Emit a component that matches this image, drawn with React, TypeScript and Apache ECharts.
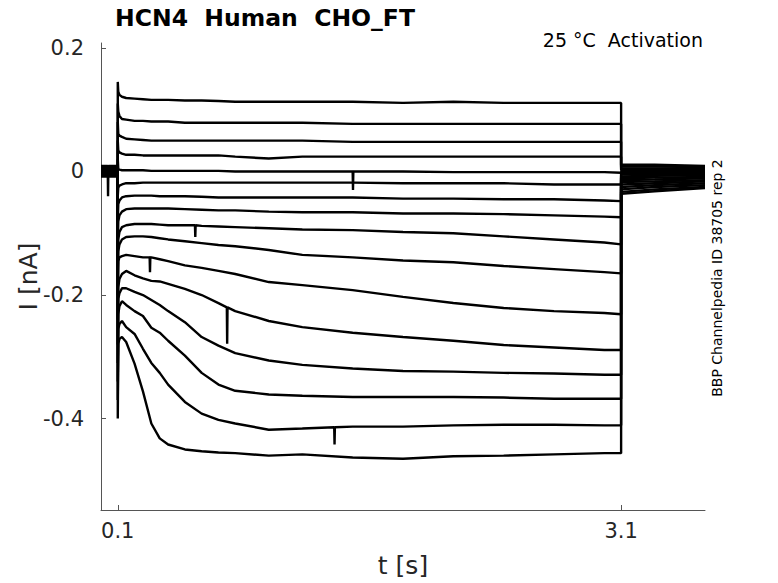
import React, { useEffect, useRef } from "react";
import * as echarts from "echarts";

// time points (s) sampled along each test pulse
const TIME = [0.103, 0.11, 0.125, 0.15, 0.2, 0.25, 0.3, 0.35, 0.4, 0.5, 0.6, 0.7, 0.8, 1.0, 1.2, 1.5, 1.8, 2.1, 2.4, 2.7, 3.0, 3.1];

// current (nA) of each sweep at TIME
const T01 = [0.129, 0.124, 0.121, 0.119, 0.118, 0.117, 0.116, 0.116, 0.116, 0.115, 0.115, 0.114, 0.113, 0.113, 0.113, 0.113, 0.111, 0.113, 0.111, 0.111, 0.111, 0.111];
const T02 = [0.097, 0.090, 0.085, 0.084, 0.082, 0.082, 0.081, 0.081, 0.081, 0.079, 0.079, 0.079, 0.079, 0.079, 0.079, 0.077, 0.077, 0.077, 0.077, 0.077, 0.077, 0.077];
const T03 = [0.061, 0.058, 0.056, 0.053, 0.052, 0.051, 0.050, 0.050, 0.050, 0.050, 0.050, 0.050, 0.050, 0.050, 0.050, 0.048, 0.048, 0.048, 0.048, 0.048, 0.048, 0.048];
const T04 = [0.034, 0.031, 0.029, 0.027, 0.027, 0.026, 0.026, 0.026, 0.026, 0.026, 0.026, 0.026, 0.024, 0.021, 0.024, 0.024, 0.024, 0.024, 0.024, 0.024, 0.024, 0.024];
const T05 = [0.004, 0.003, 0.002, 0.002, 0.002, 0.002, 0.001, 0.001, 0.001, 0.001, 0.001, 0.001, 0.000, 0.000, 0.000, 0.000, 0.000, -0.001, -0.001, -0.001, -0.001, -0.002];
const T06 = [-0.026, -0.023, -0.021, -0.019, -0.019, -0.018, -0.018, -0.018, -0.018, -0.018, -0.018, -0.018, -0.018, -0.018, -0.018, -0.018, -0.019, -0.019, -0.019, -0.021, -0.021, -0.021];
const T07 = [-0.053, -0.047, -0.042, -0.040, -0.039, -0.039, -0.039, -0.040, -0.040, -0.040, -0.041, -0.042, -0.042, -0.042, -0.042, -0.042, -0.044, -0.044, -0.045, -0.045, -0.047, -0.048];
const T08 = [-0.081, -0.071, -0.065, -0.061, -0.060, -0.060, -0.060, -0.060, -0.060, -0.061, -0.062, -0.063, -0.063, -0.065, -0.066, -0.066, -0.068, -0.068, -0.069, -0.071, -0.073, -0.074];
const T09 = [-0.110, -0.098, -0.090, -0.087, -0.085, -0.085, -0.085, -0.086, -0.087, -0.087, -0.088, -0.089, -0.090, -0.092, -0.094, -0.095, -0.098, -0.100, -0.105, -0.110, -0.115, -0.118];
const T10 = [-0.129, -0.118, -0.110, -0.106, -0.105, -0.105, -0.106, -0.108, -0.110, -0.113, -0.116, -0.119, -0.121, -0.127, -0.135, -0.139, -0.144, -0.147, -0.153, -0.158, -0.163, -0.165];
const T11 = [-0.145, -0.139, -0.137, -0.135, -0.137, -0.139, -0.139, -0.142, -0.145, -0.152, -0.156, -0.161, -0.166, -0.179, -0.184, -0.192, -0.203, -0.213, -0.221, -0.226, -0.229, -0.231];
const T12 = [-0.187, -0.174, -0.166, -0.161, -0.168, -0.173, -0.177, -0.178, -0.182, -0.190, -0.200, -0.213, -0.226, -0.242, -0.252, -0.261, -0.268, -0.274, -0.281, -0.285, -0.289, -0.289];
const T13 = [-0.206, -0.197, -0.189, -0.189, -0.195, -0.200, -0.208, -0.216, -0.226, -0.244, -0.268, -0.282, -0.294, -0.306, -0.313, -0.319, -0.323, -0.324, -0.326, -0.327, -0.329, -0.329];
const T14 = [-0.231, -0.218, -0.210, -0.216, -0.226, -0.234, -0.253, -0.261, -0.274, -0.298, -0.326, -0.345, -0.355, -0.361, -0.363, -0.365, -0.365, -0.365, -0.366, -0.368, -0.368, -0.368];
const T15 = [-0.255, -0.247, -0.242, -0.252, -0.263, -0.287, -0.310, -0.326, -0.345, -0.373, -0.392, -0.402, -0.408, -0.418, -0.416, -0.413, -0.413, -0.411, -0.410, -0.410, -0.411, -0.411];
const T16 = [-0.279, -0.271, -0.268, -0.276, -0.311, -0.356, -0.408, -0.432, -0.442, -0.450, -0.453, -0.455, -0.456, -0.460, -0.458, -0.463, -0.465, -0.461, -0.460, -0.458, -0.456, -0.456];
const TRACES = [T01, T02, T03, T04, T05, T06, T07, T08, T09, T10, T11, T12, T13, T14, T15, T16];

// holding current before the pulse (nA)
const PRE = [0.009, 0.008, 0.007, 0.005, 0.004, 0.003, 0.002, 0.001, 0.000, -0.001, -0.002, -0.003, -0.004, -0.006, -0.007, -0.008];
// capacitive transient peak at pulse onset (nA)
const CAP = [0.145, 0.11, 0.08, 0.05, 0.02, -0.04, -0.08, -0.12, -0.16, -0.2, -0.24, -0.28, -0.31, -0.34, -0.37, -0.40];
// tail currents after the pulse (nA) at TAIL_T
const TAIL_T = [3.1, 3.3, 3.6];
const TAIL_A = [0.011, 0.008, 0.005, 0.002, 0.000, -0.002, -0.005, -0.008, -0.011, -0.014, -0.017, -0.021, -0.025, -0.029, -0.033, -0.036];
const TAIL_B = [0.011, 0.008, 0.005, 0.002, 0.000, -0.002, -0.004, -0.007, -0.010, -0.013, -0.016, -0.019, -0.022, -0.025, -0.029, -0.032];
const TAIL_C = [0.009, 0.007, 0.005, 0.002, 0.000, -0.002, -0.004, -0.006, -0.009, -0.011, -0.014, -0.016, -0.019, -0.022, -0.025, -0.027];

// glitches: [sweep index, time s, base nA, extreme nA]
const SPIKES: [number, number, number, number][] = [
  [0, 0.04, 0.009, -0.04],
  [10, 0.29, -0.139, -0.163],
  [8, 0.56, -0.087, -0.106],
  [11, 0.75, -0.220, -0.279],
  [4, 1.5, 0.0, -0.03],
  [14, 1.39, -0.414, -0.442],
];

const X_TICKS = [0.1, 3.1];
const Y_TICKS = [-0.4, -0.2, 0, 0.2];

const FONT = "DejaVu Sans";

function buildSeries() {
  return TRACES.map((vals, i) => {
    const data: number[][] = [];
    data.push([0, PRE[i]]);
    data.push([0.1, PRE[i]]);
    data.push([0.1, CAP[i]]);
    TIME.forEach((t, j) => data.push([t, vals[j]]));
    data.push([TAIL_T[0], TAIL_A[i]]);
    data.push([TAIL_T[1], TAIL_B[i]]);
    data.push([TAIL_T[2], TAIL_C[i]]);
    SPIKES.filter((s) => s[0] === i).forEach(([, t, base, ext]) => {
      const k = data.findIndex((p) => p[0] > t);
      data.splice(k, 0, [t, base], [t + 0.002, ext], [t + 0.004, base]);
    });
    return {
      type: "line",
      data,
      showSymbol: false,
      symbol: "none",
      lineStyle: { color: "#000", width: 2.4 },
      silent: true,
      z: 2,
    };
  });
}

export default function App() {
  const ref = useRef<HTMLDivElement>(null);
  useEffect(() => {
    if (!ref.current) return;
    const chart = echarts.init(ref.current, undefined, { renderer: "svg" });
    chart.setOption({
      animation: false,
      backgroundColor: "#fff",
      grid: { left: 101, right: 73, top: 43, bottom: 71 },
      xAxis: {
        type: "value",
        min: 0,
        max: 3.6,
        name: "t [s]",
        nameLocation: "middle",
        nameGap: 43,
        nameMoveOverlap: false,
        nameTextStyle: { fontSize: 25, color: "#262626", fontFamily: FONT },
        axisLine: { show: true, onZero: false, lineStyle: { color: "#555", width: 1 } },
        axisTick: { show: true, inside: true, length: 5, customValues: X_TICKS, lineStyle: { color: "#555" } },
        axisLabel: {
          customValues: X_TICKS,
          formatter: (v: number) => v.toFixed(1),
          fontSize: 21,
          color: "#262626",
          fontFamily: FONT,
          margin: 10,
        },
        splitLine: { show: false },
      },
      yAxis: {
        type: "value",
        min: -0.548,
        max: 0.208,
        name: "I [nA]",
        nameLocation: "middle",
        nameGap: 60,
        nameMoveOverlap: false,
        nameTextStyle: { fontSize: 25, color: "#262626", fontFamily: FONT },
        axisLine: { show: true, onZero: false, lineStyle: { color: "#555", width: 1 } },
        axisTick: { show: true, inside: true, length: 5, customValues: Y_TICKS, lineStyle: { color: "#555" } },
        axisLabel: {
          customValues: Y_TICKS,
          formatter: (v: number) => (Math.abs(v) < 1e-9 ? "0" : v.toFixed(1)),
          fontSize: 21,
          color: "#262626",
          fontFamily: FONT,
          margin: 17,
        },
        splitLine: { show: false },
      },
      graphic: [
        {
          type: "text",
          x: 265,
          y: 18,
          style: {
            text: "HCN4  Human  CHO_FT",
            fontFamily: FONT,
            fontWeight: "bold",
            fontSize: 23.5,
            fill: "#000",
            align: "center",
            verticalAlign: "middle",
          },
        },
        {
          type: "text",
          x: 703,
          y: 40,
          style: {
            text: "25 °C  Activation",
            fontFamily: FONT,
            fontSize: 19,
            fill: "#000",
            align: "right",
            verticalAlign: "middle",
          },
        },
        {
          type: "text",
          x: 717,
          y: 278,
          rotation: Math.PI / 2,
          style: {
            text: "BBP Channelpedia ID 38705 rep 2",
            fontFamily: FONT,
            fontSize: 14,
            fill: "#000",
            align: "center",
            verticalAlign: "middle",
          },
        },
      ],
      series: buildSeries(),
    });
    return () => chart.dispose();
  }, []);
  return (
    <div
      ref={ref}
      style={{ position: "fixed", left: 0, top: 0, width: 778, height: 583, background: "#fff" }}
    />
  );
}
